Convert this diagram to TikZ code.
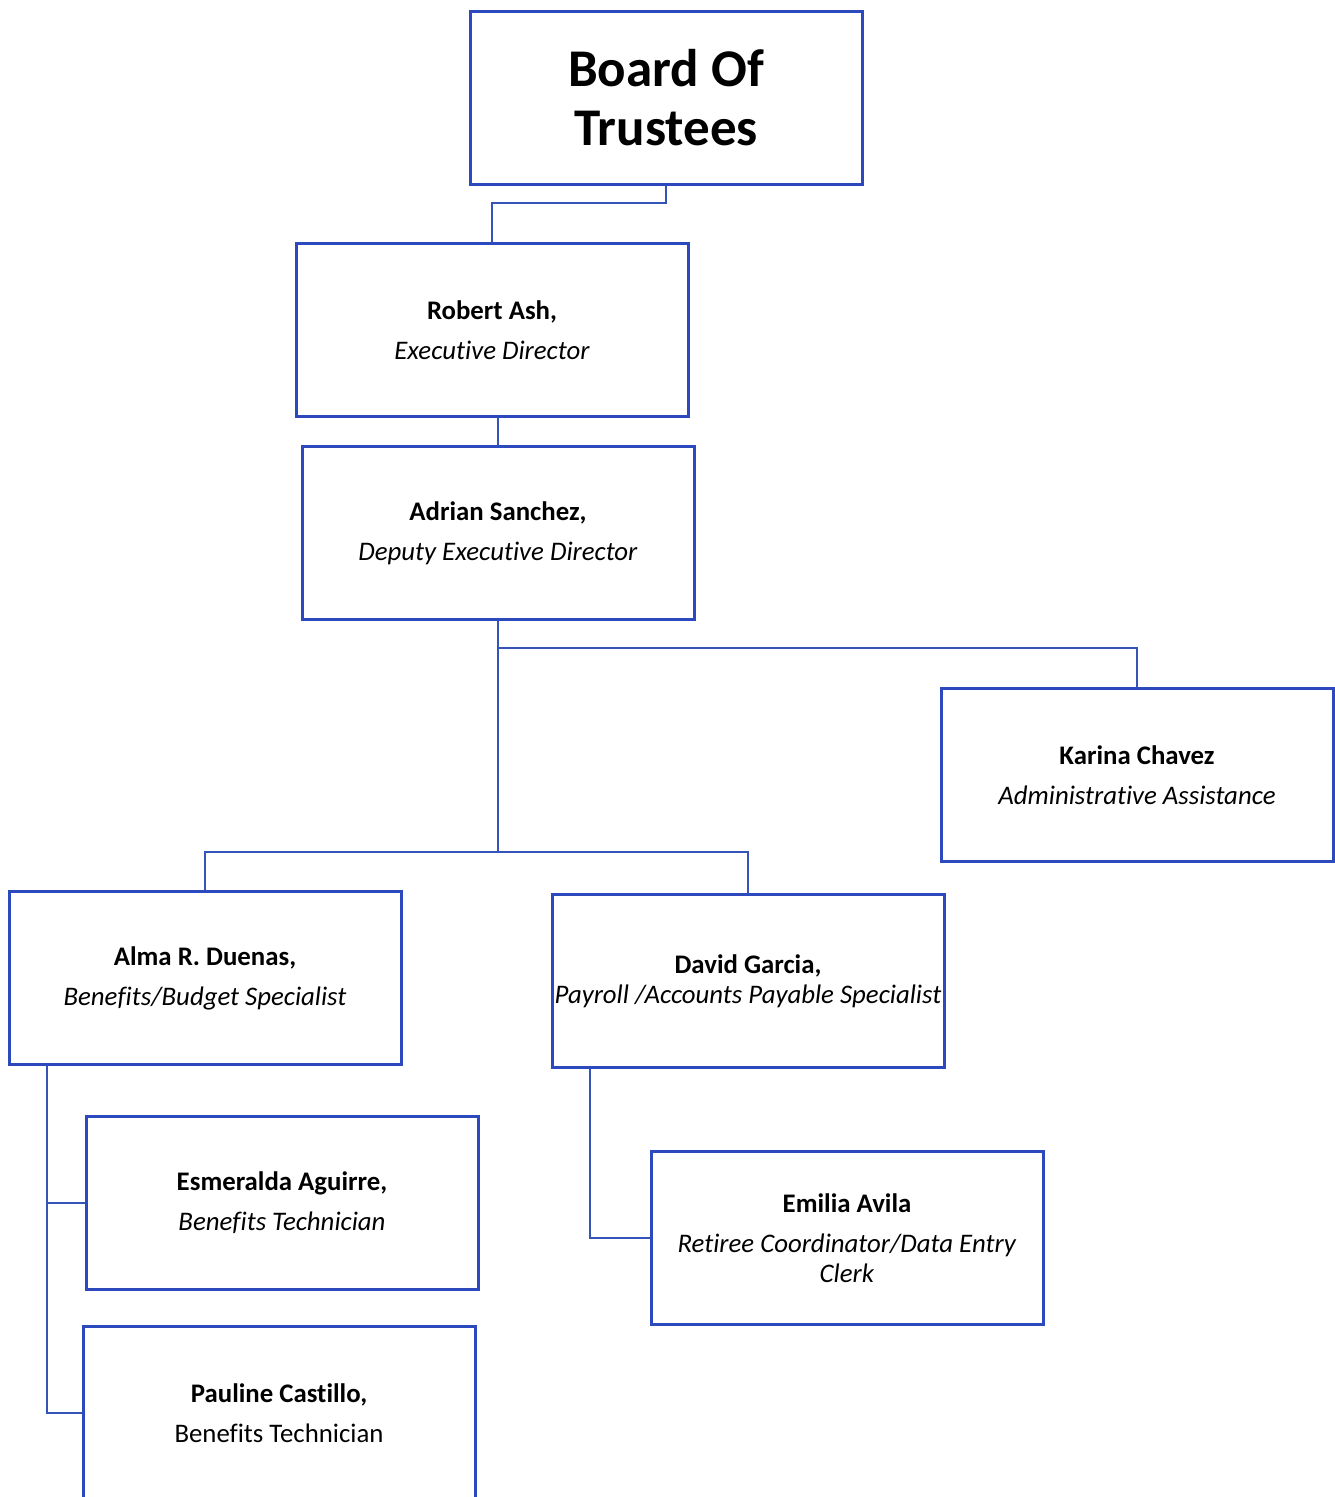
\documentclass[tikz,border=0pt]{standalone}
\usepackage{fontspec}
\setmainfont{Carlito}[Ligatures=NoCommon]
\usepackage{xcolor}
\usepackage{tikz}
\usetikzlibrary{positioning, calc}

\definecolor{boxblue}{RGB}{44,74,190}
\definecolor{linkblue}{RGB}{52,84,186}

\begin{document}
\begin{tikzpicture}[x=0.5pt, y=-0.5pt,
    person/.style={draw=boxblue, line width=1.5pt, rectangle, minimum width=196pt, minimum height=86.5pt,
        inner sep=0pt, align=center, font=\fontsize{13.4}{20}\selectfont},
    link/.style={draw=linkblue, line width=1pt}]
    \useasboundingbox (0,0) rectangle (1334,1497);

    \node[person, font=\bfseries\fontsize{26.5}{29.5}\selectfont] (board) at (666,98) {Board Of\\Trustees};
    \node[person] (robert) at (492,330) {\textbf{Robert Ash,}\\\textit{Executive Director}};
    \node[person] (adrian) at (498,533) {\textbf{Adrian Sanchez,}\\\textit{Deputy Executive Director}};
    \node[person] (karina) at (1137,775) {\textbf{Karina Chavez}\\\textit{Administrative Assistance}};
    \node[person] (alma) at (205,978) {\textbf{Alma R. Duenas,}\\\textit{Benefits/Budget Specialist}};
    \node[person, font=\fontsize{13.4}{15}\selectfont] (david) at (748,981) {\textbf{David Garcia,}\\\textit{Payroll /Accounts Payable Specialist}};
    \node[person] (esmeralda) at (282,1203) {\textbf{Esmeralda Aguirre,}\\\textit{Benefits Technician}};
    \node[person] (pauline) at (279,1413) {\textbf{Pauline Castillo,}\\Benefits Technician};
    \node[person, font=\fontsize{13.4}{15}\selectfont] (emilia) at (847,1238) {\textbf{Emilia Avila}\\[5pt]\textit{Retiree Coordinator/Data Entry}\\\textit{Clerk}};

    \draw[link] (board.south) -- ++(0,17) -| (robert.north);
    \draw[link] (adrian.north) -- (adrian.north |- robert.south);
    \draw[link] (adrian.south) -- ++(0,231) coordinate (fork);
    \draw[link] (adrian.south) ++(0,27) -| (karina.north);
    \draw[link] (alma.north) |- (fork) -| (david.north);

    \coordinate (almadrop) at ([xshift=19.5pt]alma.south west);
    \draw[link] (almadrop) |- (pauline.west);
    \draw[link] (esmeralda.west) -- (esmeralda.west -| almadrop);

    \draw[link] ([xshift=19.5pt]david.south west) |- (emilia.west);
\end{tikzpicture}
\end{document}
